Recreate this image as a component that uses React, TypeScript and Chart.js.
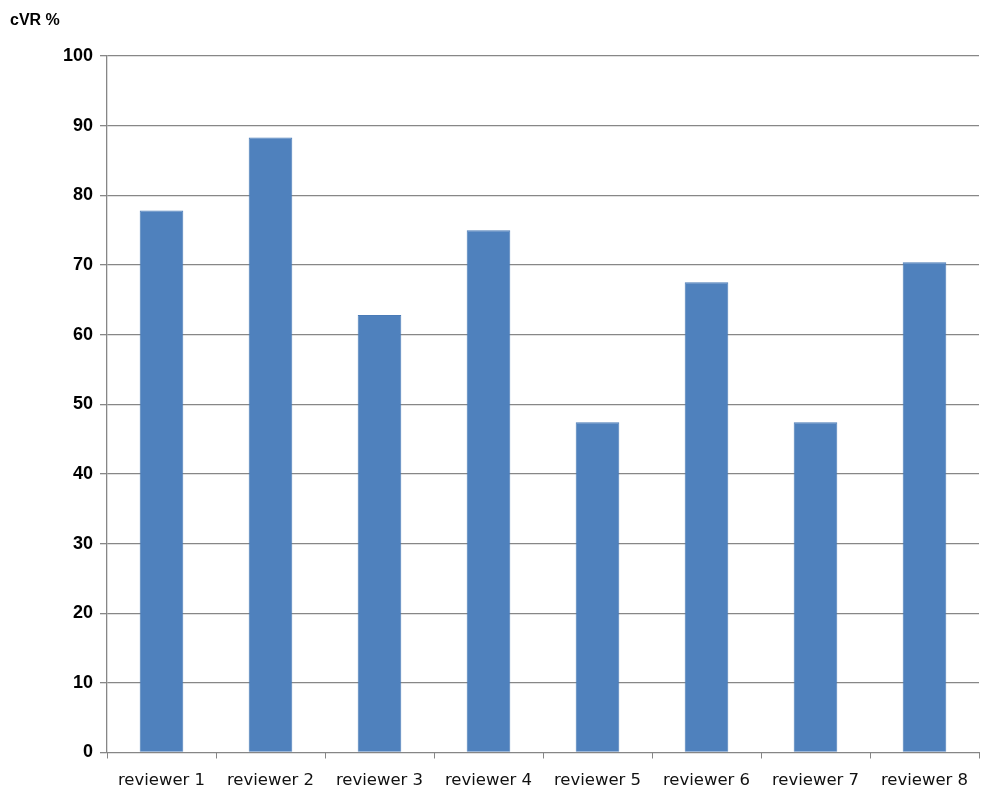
import React, { useEffect, useRef } from "react";
import { Chart, registerables } from "chart.js";

Chart.register(...registerables);

const categories = ["reviewer 1", "reviewer 2", "reviewer 3", "reviewer 4", "reviewer 5", "reviewer 6", "reviewer 7", "reviewer 8"];
const cvrValues = [77.8, 88.3, 62.8, 75.0, 47.4, 67.5, 47.4, 70.4];
const yAxisTitle = "cVR %";
const yMin = 0;
const yMax = 100;
const yStep = 10;

const titlePlugin = {
  id: "cornerTitle",
  afterDraw(chart: any) {
    const ctx = chart.ctx;
    ctx.save();
    ctx.font = "bold 16px 'Liberation Sans', Arial, sans-serif";
    ctx.fillStyle = "#000";
    ctx.textAlign = "left";
    ctx.textBaseline = "middle";
    ctx.fillText(yAxisTitle, 10, 21);
    ctx.restore();
  },
};

export default function App() {
  const ref = useRef<HTMLCanvasElement | null>(null);
  useEffect(() => {
    if (!ref.current) return;
    const chart = new Chart(ref.current, {
      type: "bar",
      data: {
        labels: categories,
        datasets: [
          {
            data: cvrValues,
            backgroundColor: "#4F81BD",
            borderColor: "#4A7BB7",
            borderWidth: 1,
            barPercentage: 0.4,
            categoryPercentage: 1,
          },
        ],
      },
      options: {
        animation: false,
        responsive: false,
        maintainAspectRatio: false,
        layout: { padding: { top: 56, right: 21, left: 0, bottom: 0 } },
        plugins: { legend: { display: false }, tooltip: { enabled: false }, title: { display: false } },
        scales: {
          x: {
            grid: { display: true, drawOnChartArea: false, drawTicks: true, tickLength: 6, color: "#868686", offset: true },
            border: { display: true, color: "#868686", width: 1 },
            ticks: { color: "#111", font: { family: "'DejaVu Sans', Verdana, sans-serif", size: 16.5 }, padding: 12, maxRotation: 0 },
            afterFit(scale: any) { scale.height = 49.5; },
          },
          y: {
            min: yMin,
            max: yMax,
            grid: { color: "#878787", lineWidth: 1.3, drawTicks: true, tickLength: 7 },
            border: { display: true, color: "#868686", width: 1.3 },
            ticks: { stepSize: yStep, color: "#000", font: { family: "'Liberation Sans', Arial, sans-serif", size: 18, weight: "bold" }, padding: 7 },
            afterFit(scale: any) { scale.width = 107; },
          },
        },
      },
      plugins: [titlePlugin],
    } as any);
    return () => chart.destroy();
  }, []);
  return (
    <div style={{ position: "fixed", left: 0, top: 0, width: 1000, height: 802, background: "#fff" }}>
      <canvas ref={ref} width={1000} height={802} style={{ width: 1000, height: 802 }} />
    </div>
  );
}
